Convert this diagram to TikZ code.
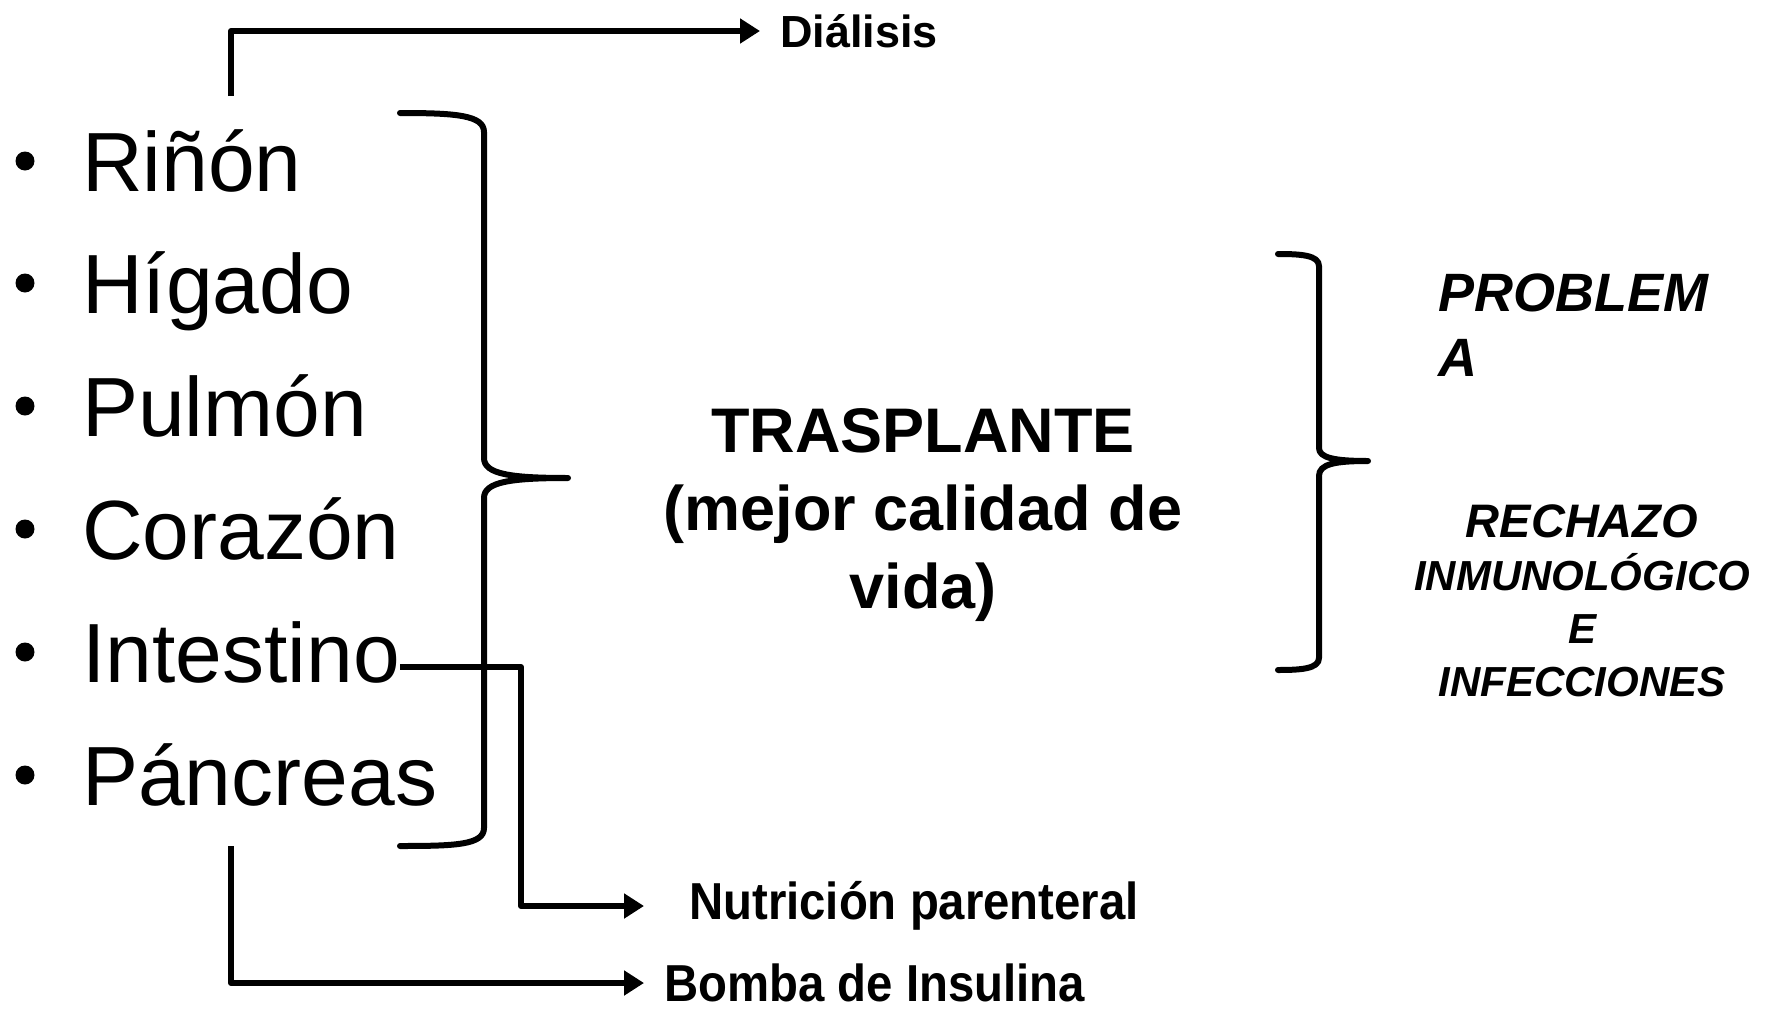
\documentclass[tikz,border=0pt]{standalone}
\usepackage{fontspec}
\setmainfont{Liberation Sans}
\usetikzlibrary{arrows.meta}
\tikzset{
  conn/.style={line width=6pt, line join=round, -{Triangle[length=20pt,width=24pt]}},
  brk/.style={line width=6pt, line cap=round, line join=round},
  item/.style={anchor=base west, inner sep=0pt, font=\fontsize{84}{100}\selectfont},
  bul/.style={circle, fill=black, inner sep=0pt, minimum size=19pt},
  smallb/.style={anchor=west, inner sep=0pt, font=\bfseries\fontsize{52}{60}\selectfont},
}
\begin{document}
\begin{tikzpicture}[x=1pt,y=-1pt]
\useasboundingbox (0,0) rectangle (1765,1012);
% list
\foreach \name/\txt/\yy in {r1/Riñón/191, r2/Hígado/313, r3/Pulmón/436, r4/Corazón/559, r5/Intestino/682, r6/Páncreas/805}{
  \node[item] (\name) at (82,\yy) {\txt};
  \node[bul] (b\name) at (25,\yy-30) {};
}
% left brace
\draw[brk] (400,113) .. controls (455,113) and (484,115) .. (484,132)
  -- (484,458) .. controls (484,474) and (510,478) .. (568,478)
  .. controls (510,478) and (484,482) .. (484,498)
  -- (484,828) .. controls (484,845) and (455,846) .. (400,846);
% right brace
\draw[brk] (1278,254) .. controls (1300,254) and (1319,255) .. (1319,266)
  -- (1319,448) .. controls (1319,458) and (1335,461) .. (1368,461)
  .. controls (1335,461) and (1319,464) .. (1319,476)
  -- (1319,658) .. controls (1319,669) and (1300,670) .. (1278,670);
% central text
\node[align=center, font=\bfseries\fontsize{63}{78}\selectfont] (tr) at (923,515) {TRASPLANTE\\(mejor calidad de\\vida)};
\node[align=left, anchor=north west, inner sep=0pt, font=\bfseries\itshape\fontsize{54}{65}\selectfont] (prob) at (1438,274) {PROBLEM\\A};
\node[align=center, font=\bfseries\itshape\fontsize{42}{53}\selectfont] (rech) at (1582,601) {{\fontsize{47}{53}\selectfont RECHAZO}\\INMUNOLÓGICO\\E\\INFECCIONES};
% targets
\node[anchor=west, inner sep=0pt, font=\bfseries\fontsize{45}{50}\selectfont] (dial) at (780,31) {Diálisis};
\node[smallb] (nut) at (689,906) {\scalebox{0.91}[1]{Nutrición parenteral}};
\node[smallb] (bom) at (664,983) {\scalebox{0.91}[1]{Bomba de Insulina}};
% connectors
\coordinate (dstart) at (231,96);
\coordinate (istart) at (400,667);
\coordinate (pstart) at (231,846);
\draw[conn] (dstart) |- ([xshift=-20pt]dial.west);
\draw[conn] (istart) -- (521,667) |- ([xshift=-45pt]nut.west);
\draw[conn] (pstart) |- ([xshift=-20pt]bom.west);
\end{tikzpicture}
\end{document}
